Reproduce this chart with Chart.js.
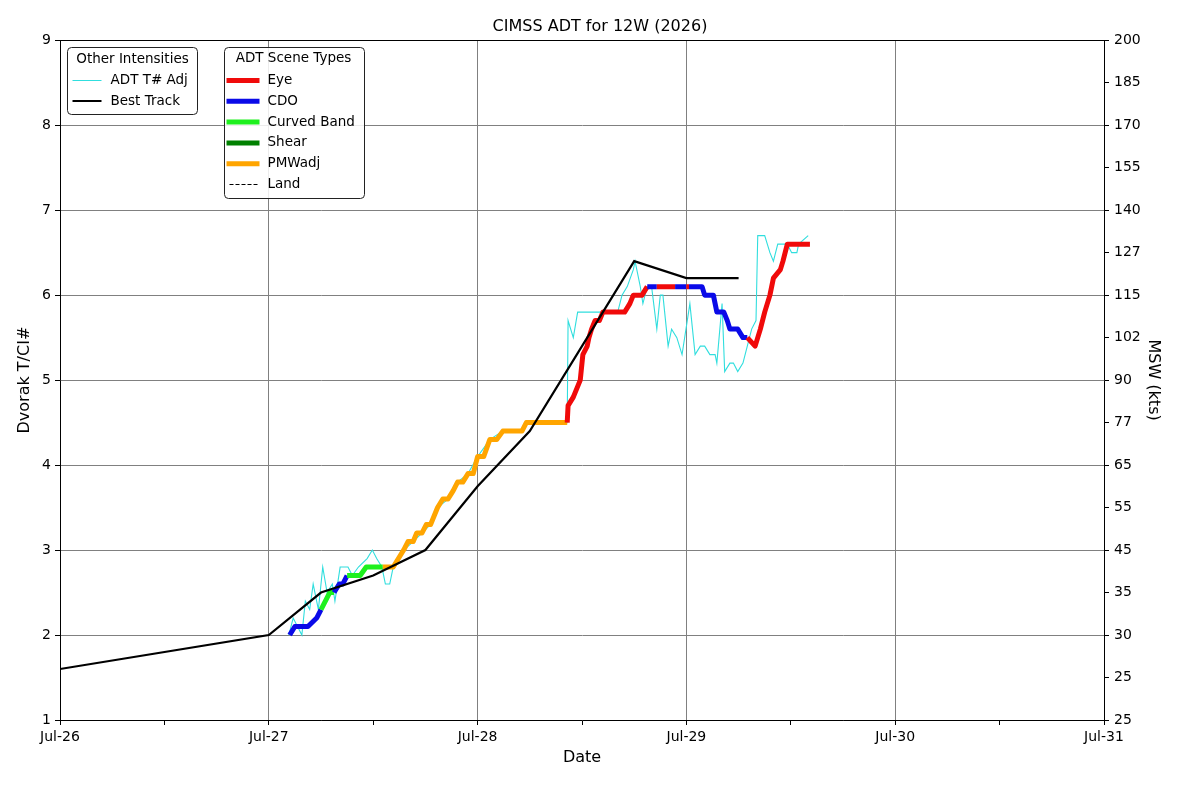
<!DOCTYPE html>
<html>
<head>
<meta charset="utf-8">
<title>CIMSS ADT for 12W (2026)</title>
<script src="https://cdn.jsdelivr.net/npm/chart.js"></script>
<style>
  html, body { margin: 0; padding: 0; background: #fff; }
  #wrap { width: 1200px; height: 800px; }
</style>
</head>
<body>
<div id="wrap"><canvas id="adtChart" width="1200" height="800"></canvas></div>
<script>
// x values are hours after Jul-26 00Z
var dayLabels = ['Jul-26', 'Jul-27', 'Jul-28', 'Jul-29', 'Jul-30', 'Jul-31'];
var mswLabels = [25, 25, 30, 35, 45, 55, 65, 77, 90, 102, 115, 127, 140, 155, 170, 185, 200];

// best track (T number equivalents)
var btHours = [0, 24, 30, 36, 42, 48, 54, 60, 66, 72, 78];
var btT     = [1.6, 2.0, 2.5, 2.7, 3.0, 3.75, 4.4, 5.4, 6.4, 6.2, 6.2];

// ADT final CI#, coloured by scene type
var adtHours = [26.4, 27.0, 28.5, 29.5, 30.0, 31.0, 31.5, 32.1, 32.5, 33.0, 34.5, 35.2,
  37.1, 38.3, 39.5, 40.0, 40.6, 41.0, 41.6, 42.1, 42.6, 43.0, 43.4, 44.0, 44.6, 45.2,
  45.7, 46.3, 46.9, 47.5, 48.0, 48.7, 49.4, 50.2, 50.9, 53.1, 53.6,
  58.3, 58.4, 59.0, 59.4, 59.8, 60.1, 60.6, 60.8, 61.1, 61.5, 62.0, 62.4, 64.9, 65.5,
  65.9, 66.9, 67.5, 68.6, 70.7, 72.0, 72.3, 73.8, 74.1, 75.1, 75.5, 76.3, 76.7, 77.0,
  77.9, 78.5, 79.0, 79.9, 80.5, 81.0, 81.6, 82.0, 82.8, 83.1, 83.6, 86.2];
var adtCI = [2.0, 2.1, 2.1, 2.2, 2.3, 2.5, 2.5, 2.6, 2.6, 2.7, 2.7, 2.8,
  2.8, 2.8, 3.0, 3.1, 3.1, 3.2, 3.2, 3.3, 3.3, 3.4, 3.5, 3.6, 3.6, 3.7,
  3.8, 3.8, 3.9, 3.9, 4.1, 4.1, 4.3, 4.3, 4.4, 4.4, 4.5,
  4.5, 4.7, 4.8, 4.9, 5.0, 5.3, 5.4, 5.5, 5.6, 5.7, 5.7, 5.8, 5.8, 5.9,
  6.0, 6.0, 6.1, 6.1, 6.1, 6.1, 6.1, 6.1, 6.0, 6.0, 5.8, 5.8, 5.7, 5.6,
  5.6, 5.5, 5.5, 5.4, 5.6, 5.8, 6.0, 6.2, 6.3, 6.4, 6.6, 6.6];
var adtScene = ['CDO', 'CDO', 'CDO', 'CDO', 'CRV', 'CRV', 'CDO', 'CDO', 'CDO', 'CRV', 'CRV', 'CRV',
  'PMW', 'PMW', 'PMW', 'PMW', 'PMW', 'PMW', 'PMW', 'PMW', 'PMW', 'PMW', 'PMW', 'PMW', 'PMW', 'PMW',
  'PMW', 'PMW', 'PMW', 'PMW', 'PMW', 'PMW', 'PMW', 'PMW', 'PMW', 'PMW', 'PMW',
  'EYE', 'EYE', 'EYE', 'EYE', 'EYE', 'EYE', 'EYE', 'EYE', 'EYE', 'EYE', 'EYE', 'EYE', 'EYE', 'EYE',
  'EYE', 'EYE', 'CDO', 'EYE', 'CDO', 'EYE', 'CDO', 'CDO', 'CDO', 'CDO', 'CDO', 'CDO', 'CDO', 'CDO',
  'CDO', 'CDO', 'EYE', 'EYE', 'EYE', 'EYE', 'EYE', 'EYE', 'EYE', 'EYE', 'EYE', 'EYE'];

// ADT T# Adj (thin cyan)
var adjHours = [26.3, 26.8, 27.8, 28.2, 28.7, 29.1, 29.7, 30.2, 30.7, 31.3, 31.6, 32.2, 33.1,
  33.6, 34.3, 35.3, 35.9, 36.4, 37.0, 37.4, 37.9, 38.3, 39.5, 40.6, 41.6, 42.6, 43.4,
  44.6, 45.7, 46.9, 48.0, 49.4, 50.9, 53.1, 53.6, 58.3, 58.4, 59.0, 59.5, 64.1, 64.6,
  65.2, 65.9, 66.1, 66.7, 67.0, 67.5, 68.0, 68.6, 69.0, 69.3, 69.9, 70.3, 70.9, 71.5,
  72.1, 72.4, 73.0, 73.6, 74.1, 74.7, 75.3, 75.5, 76.1, 76.4, 77.0, 77.4, 77.9, 78.5,
  79.0, 79.5, 80.0, 80.2, 81.0, 81.6, 82.0, 82.5, 83.6, 84.1, 84.7, 84.9, 86.0];
var adjT = [2.0, 2.2, 2.0, 2.4, 2.3, 2.6, 2.3, 2.8, 2.5, 2.6, 2.4, 2.8, 2.8,
  2.7, 2.8, 2.9, 3.0, 2.9, 2.8, 2.6, 2.6, 2.8, 3.0, 3.1, 3.2, 3.3, 3.5,
  3.6, 3.8, 3.9, 4.1, 4.3, 4.4, 4.4, 4.5, 4.5, 5.7, 5.5, 5.8, 5.8, 6.0,
  6.1, 6.3, 6.4, 6.1, 5.9, 6.1, 6.1, 5.6, 6.0, 6.0, 5.4, 5.6, 5.5, 5.3,
  5.7, 5.9, 5.3, 5.4, 5.4, 5.3, 5.3, 5.2, 5.9, 5.1, 5.2, 5.2, 5.1, 5.2,
  5.4, 5.6, 5.7, 6.7, 6.7, 6.5, 6.4, 6.6, 6.6, 6.5, 6.5, 6.6, 6.7];

var sceneColors = { EYE: '#f00a0a', CDO: '#0a0ae8', CRV: '#1ef01e', SHEAR: '#008000', PMW: '#ffa500' };
var sceneNames = ['Eye', 'CDO', 'Curved Band', 'Shear', 'PMWadj', 'Land'];
var sceneKeys  = ['EYE', 'CDO', 'CRV', 'SHEAR', 'PMW', 'LAND'];
var adjColor = '#30dede';

var FONT = 'DejaVu Sans';
Chart.defaults.font.family = FONT;
Chart.defaults.color = '#000';

function pairs(xs, ys) {
  var out = [];
  for (var i = 0; i < xs.length; i++) out.push({ x: xs[i], y: ys[i] });
  return out;
}

function boxPath(c, x, y, w, h, r) {
  c.beginPath();
  c.moveTo(x + r, y);
  c.lineTo(x + w - r, y);
  c.quadraticCurveTo(x + w, y, x + w, y + r);
  c.lineTo(x + w, y + h - r);
  c.quadraticCurveTo(x + w, y + h, x + w - r, y + h);
  c.lineTo(x + r, y + h);
  c.quadraticCurveTo(x, y + h, x, y + h - r);
  c.lineTo(x, y + r);
  c.quadraticCurveTo(x, y, x + r, y);
  c.closePath();
}

// top spine + the two legend boxes
var decorations = {
  id: 'decorations',
  afterDraw: function(chart) {
    var a = chart.chartArea, c = chart.ctx;
    c.save();
    c.strokeStyle = '#000';
    c.lineWidth = 1;
    c.beginPath();
    c.moveTo(a.left, Math.round(a.top) + 0.5);
    c.lineTo(a.right, Math.round(a.top) + 0.5);
    c.stroke();

    c.font = '13.5px "' + FONT + '"';
    c.textBaseline = 'middle';

    // Other Intensities
    var x1 = a.left + 7.5, y1 = Math.round(a.top) + 7.5;
    boxPath(c, x1, y1, 130, 67, 4);
    c.fillStyle = 'rgba(255,255,255,0.85)';
    c.fill();
    c.strokeStyle = '#222';
    c.stroke();
    c.fillStyle = '#000';
    c.textAlign = 'center';
    c.fillText('Other Intensities', x1 + 65, y1 + 12);
    c.textAlign = 'left';
    var other = [
      { name: 'ADT T# Adj', color: adjColor, width: 1 },
      { name: 'Best Track', color: '#000', width: 2 }
    ];
    other.forEach(function(o, i) {
      var yy = y1 + 33 + i * 20.5;
      c.strokeStyle = o.color;
      c.lineWidth = o.width;
      c.beginPath();
      c.moveTo(x1 + 5, yy);
      c.lineTo(x1 + 34, yy);
      c.stroke();
      c.fillText(o.name, x1 + 43, yy);
    });

    // ADT Scene Types
    var x2 = a.left + 164.5, y2 = y1;
    c.lineWidth = 1;
    boxPath(c, x2, y2, 140, 151, 4);
    c.fillStyle = 'rgba(255,255,255,0.85)';
    c.fill();
    c.strokeStyle = '#222';
    c.stroke();
    c.fillStyle = '#000';
    c.textAlign = 'center';
    c.fillText('ADT Scene Types', x2 + 69, y2 + 11);
    c.textAlign = 'left';
    sceneNames.forEach(function(name, i) {
      var yy = y2 + 33 + i * 20.8;
      c.beginPath();
      if (sceneKeys[i] === 'LAND') {
        c.strokeStyle = '#000';
        c.lineWidth = 1;
        c.setLineDash([4, 2]);
        c.moveTo(x2 + 5, yy);
        c.lineTo(x2 + 33, yy);
      } else {
        c.strokeStyle = sceneColors[sceneKeys[i]];
        c.lineWidth = 5;
        c.setLineDash([]);
        c.moveTo(x2 + 2, yy);
        c.lineTo(x2 + 35, yy);
      }
      c.stroke();
      c.setLineDash([]);
      c.fillText(name, x2 + 43, yy);
    });
    c.restore();
  }
};

var tickFont = { family: FONT, size: 14 };
var titleFont = { family: FONT, size: 16 };

var ctx = document.getElementById('adtChart');
var adtChart = new Chart(ctx, {
  type: 'line',
  data: {
    datasets: [
      {
        label: 'Best Track',
        data: pairs(btHours, btT),
        borderColor: '#000',
        borderWidth: 2.2,
        pointRadius: 0,
        tension: 0,
        yAxisID: 'y'
      },
      {
        label: 'ADT CI#',
        data: pairs(adtHours, adtCI),
        borderColor: sceneColors.PMW,
        borderWidth: 5,
        borderJoinStyle: 'round',
        pointRadius: 0,
        tension: 0,
        yAxisID: 'y',
        segment: {
          borderColor: function(s) { return sceneColors[adtScene[s.p0DataIndex]]; }
        }
      },
      {
        label: 'ADT T# Adj',
        data: pairs(adjHours, adjT),
        borderColor: adjColor,
        borderWidth: 1.1,
        pointRadius: 0,
        tension: 0,
        yAxisID: 'y'
      }
    ]
  },
  options: {
    responsive: false,
    animation: false,
    events: [],
    layout: { padding: 0 },
    plugins: {
      legend: { display: false },
      tooltip: { enabled: false },
      title: {
        display: true,
        text: 'CIMSS ADT for 12W (2026)',
        color: '#000',
        font: { family: FONT, size: 16, weight: 'normal' },
        padding: { top: 17, bottom: 4 }
      }
    },
    scales: {
      x: {
        type: 'linear',
        min: 0,
        max: 120,
        ticks: {
          stepSize: 12,
          autoSkip: false,
          maxRotation: 0,
          color: '#000',
          font: tickFont,
          padding: 4,
          callback: function(v) { return v % 24 === 0 ? dayLabels[v / 24] : ''; }
        },
        grid: {
          color: function(g) { return g.tick && g.tick.value % 24 === 0 ? '#808080' : 'rgba(0,0,0,0)'; },
          tickColor: '#000',
          tickLength: 5
        },
        border: { color: '#000' },
        title: { display: true, text: 'Date', color: '#000', font: titleFont, padding: { top: 0, bottom: 33 } },
        afterFit: function(s) { s.height = 80; }
      },
      y: {
        position: 'left',
        min: 1,
        max: 9,
        ticks: { stepSize: 1, color: '#000', font: tickFont, padding: 4 },
        grid: { color: '#808080', tickColor: '#000', tickLength: 5 },
        border: { color: '#000' },
        title: { display: true, text: 'Dvorak T/CI#', color: '#000', font: titleFont, padding: { top: 15, bottom: 0 } },
        afterFit: function(s) { s.width = 60; }
      },
      y2: {
        position: 'right',
        min: 1,
        max: 9,
        ticks: {
          stepSize: 0.5,
          color: '#000',
          font: tickFont,
          padding: 5,
          callback: function(v, i) { return mswLabels[i]; }
        },
        grid: { drawOnChartArea: false, tickColor: '#000', tickLength: 5 },
        border: { color: '#000' },
        title: { display: true, text: 'MSW (kts)', color: '#000', font: titleFont, padding: { top: 37, bottom: 0 } },
        afterFit: function(s) { s.width = 96; }
      }
    }
  },
  plugins: [decorations]
});
</script>
</body>
</html>
